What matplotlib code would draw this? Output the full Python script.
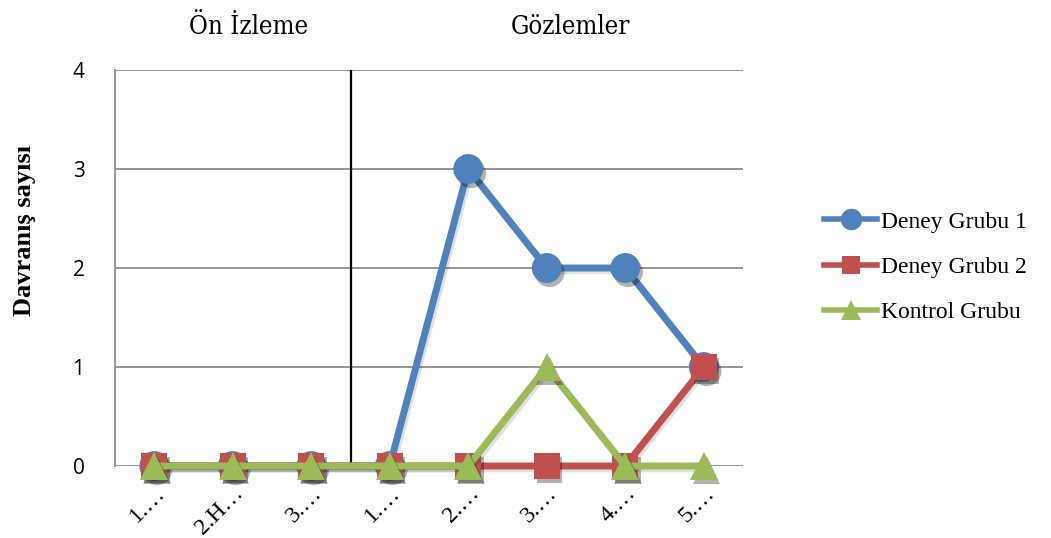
import matplotlib
matplotlib.use("Agg")
import matplotlib.pyplot as plt
import matplotlib.patheffects as pe
import matplotlib.transforms as mtransforms
from matplotlib.lines import Line2D

# Observation sessions (labels are truncated as in the source worksheet)
categories = ["1.…", "2.H…", "3.…", "1.…", "2.…", "3.…", "4.…", "5.…"]

deney_grubu_1 = [0, 0, 0, 0, 3, 2, 2, 1]
deney_grubu_2 = [0, 0, 0, 0, 0, 0, 0, 1]
kontrol_grubu = [0, 0, 0, 0, 0, 1, 0, 0]

y_ticks = [0, 1, 2, 3, 4]
phase_titles = ["Ön İzleme", "Gözlemler"]
phase_split = 2.5  # boundary between baseline and observation phases

W, H = 1051, 538
fig = plt.figure(figsize=(W / 100, H / 100), dpi=100)
ax = fig.add_axes([115 / W, 72 / H, (743 - 115) / W, (466 - 70) / H])

x = list(range(len(categories)))

marker_shadow = [pe.SimplePatchShadow(offset=(2, -3), alpha=0.3,
                                      shadow_rgbFace="black"),
                 pe.Normal()]
line_shadow = [pe.SimpleLineShadow(offset=(1.5, -2), alpha=0.12),
               pe.Normal()]

series = [
    (deney_grubu_1, "Deney Grubu 1", "#4F81BD", "o", 21.5),
    (deney_grubu_2, "Deney Grubu 2", "#C0504D", "s", 18.5),
    (kontrol_grubu, "Kontrol Grubu", "#9BBB59", "^", 20),
]
handles = []
for i, (vals, name, col, mk, ms) in enumerate(series):
    ax.plot(x, vals, color=col, lw=5, solid_capstyle="round",
            zorder=3 + 2 * i, clip_on=False, path_effects=line_shadow)
    ax.plot(x, vals, ls="none", marker=mk, markersize=ms, color=col,
            markeredgewidth=0, zorder=4 + 2 * i, clip_on=False,
            path_effects=marker_shadow)
    handles.append(Line2D([], [], color=col, lw=4, marker=mk,
                          markersize=ms * 0.72, markeredgewidth=0,
                          label=name))

ax.set_xlim(-0.5, len(categories) - 0.5)
ax.set_ylim(0, 4)
ax.set_yticks(y_ticks)
ax.set_yticklabels([str(v) for v in y_ticks], fontsize=15,
                   family=["Open Sans", "DejaVu Sans"])
ax.set_xticks(x)
ax.set_xticklabels(categories, rotation=45, ha="right", va="top",
                   rotation_mode="anchor", fontsize=17,
                   family="Liberation Serif")
shift = mtransforms.ScaledTranslation(4 / 100, 0, fig.dpi_scale_trans)
for lbl in ax.get_xticklabels():
    lbl.set_transform(lbl.get_transform() + shift)
ax.tick_params(axis="both", length=0)
ax.tick_params(axis="y", pad=22)
ax.tick_params(axis="x", pad=12)

ax.grid(axis="y", color="#8C8C8C", lw=1.3, zorder=0)
ax.set_axisbelow(True)
for s in ["top", "right", "bottom"]:
    ax.spines[s].set_visible(False)
ax.spines["left"].set_color("#8C8C8C")
ax.spines["left"].set_linewidth(1.3)

# phase boundary
ax.axvline(phase_split, color="black", lw=1.6, zorder=2)

ax.set_ylabel("Davranış sayısı", fontsize=19, fontweight="bold",
              family="Liberation Serif", va="center")
ax.yaxis.set_label_coords((25 - 115) / 628, (466 - 230) / 396)

for cx, title in zip([249, 570], phase_titles):
    fig.text(cx / W, 1 - 26 / H, title, ha="center", va="center",
             fontsize=18.5, family="DejaVu Serif", fontstretch="condensed")

ax.legend(handles=handles, loc="center left",
          bbox_to_anchor=(803 / W, 1 - 267 / H),
          bbox_transform=fig.transFigure, frameon=False,
          prop={"family": "Liberation Serif", "size": 17},
          handlelength=2.25, handletextpad=0.17, labelspacing=1.0)

fig.savefig("out.png", dpi=100)
